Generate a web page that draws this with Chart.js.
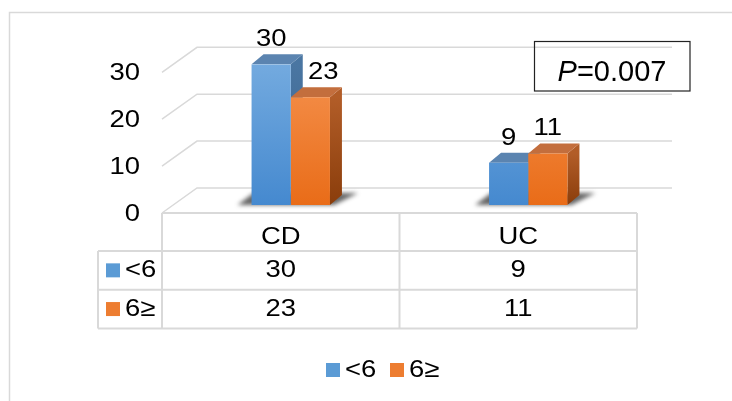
<!DOCTYPE html>
<html>
<head>
<meta charset="utf-8">
<script src="https://cdn.jsdelivr.net/npm/chart.js@4"></script>
<style>
  html, body { margin: 0; padding: 0; background: #fff; }
  #wrap { position: relative; width: 732px; height: 401px; }
</style>
</head>
<body>
<div id="wrap"><canvas id="chart"></canvas></div>
<script>
// data
const categories = ['CD', 'UC']
const seriesNames = ['<6', '6≥']
const under6 = [30, 9]
const over6 = [23, 11]
const yTicks = [0, 10, 20, 30]
const pLabel = 'P'
const pValue = '=0.007'

const FONT = '"Liberation Sans", Arial, sans-serif'
const GRID = '#d9d9d9'
const TEXT_SIZE = 24.5
const TEXT_STRETCH = 1.12 // the source text is a little wide

// colours: front top, front bottom, side, top face
const looks = [
  { front: ['#73aadf', '#4589cf'], side: ['#4a76a2', '#3a628c'], top: '#5b84b0', key: '#5b9bd5' },
  { front: ['#f5924f', '#e96c18'], side: ['#b25d28', '#8a3d0b'], top: '#c36e3d', key: '#ed7d31' }
]

// 3D offsets (bar depth, then front / back walls relative to the bar plane)
const BAR = { dx: 12, dy: 10 }
const FRONT = { dx: -10, dy: 8 }
const BACK = { dx: 25, dy: -17 }

function frontFill (colors) {
  return (c) => {
    const a = c.chart.chartArea
    if (!a) return colors[1]
    const g = c.chart.ctx.createLinearGradient(0, a.top, 0, a.bottom)
    g.addColorStop(0, colors[0])
    g.addColorStop(1, colors[1])
    return g
  }
}

function poly (ctx, pts, fill) {
  ctx.beginPath()
  ctx.moveTo(pts[0][0], pts[0][1])
  pts.slice(1).forEach(p => ctx.lineTo(p[0], p[1]))
  ctx.closePath()
  ctx.fillStyle = fill
  ctx.fill()
}

function text (ctx, str, x, y, align) {
  ctx.save()
  ctx.translate(x, y)
  ctx.scale(TEXT_STRETCH, 1)
  ctx.font = TEXT_SIZE + 'px ' + FONT
  ctx.textAlign = align
  ctx.textBaseline = 'middle'
  ctx.fillStyle = '#000'
  ctx.fillText(str, 0, 0)
  ctx.restore()
}

const threeD = {
  id: 'threeD',
  beforeDatasetsDraw (chart) {
    const { ctx, chartArea: a, scales: { y } } = chart
    ctx.save()

    // walls: gridlines run from the front edge to the back wall
    ctx.strokeStyle = GRID
    ctx.lineWidth = 1.5
    yTicks.forEach(v => {
      const py = y.getPixelForValue(v)
      ctx.beginPath()
      ctx.moveTo(a.left + FRONT.dx, py + FRONT.dy)
      ctx.lineTo(a.left + BACK.dx, py + BACK.dy)
      ctx.lineTo(a.right + BACK.dx, py + BACK.dy)
      ctx.stroke()
    })

    // floor shadows
    categories.forEach((c, j) => {
      const first = chart.getDatasetMeta(0).data[j]
      const last = chart.getDatasetMeta(chart.data.datasets.length - 1).data[j]
      const l = first.x - first.width / 2
      const r = last.x + last.width / 2
      const b = first.base
      ctx.save()
      ctx.filter = 'blur(2px)'
      poly(ctx, [[l - 14, b], [r + 4, b], [r + BAR.dx + 16, b - BAR.dy - 2], [l + 2, b - BAR.dy - 2]], 'rgba(50,50,50,0.75)')
      ctx.restore()
    })

    // side and top faces, series in order so later bars cover earlier ones
    categories.forEach((c, j) => {
      chart.data.datasets.forEach((ds, i) => {
        const bar = chart.getDatasetMeta(i).data[j]
        const l = bar.x - bar.width / 2
        const r = bar.x + bar.width / 2
        const t = bar.y
        const b = bar.base
        const g = ctx.createLinearGradient(0, t, 0, b)
        g.addColorStop(0, looks[i].side[0])
        g.addColorStop(1, looks[i].side[1])
        poly(ctx, [[r, t], [r + BAR.dx, t - BAR.dy], [r + BAR.dx, b - BAR.dy], [r, b]], g)
        poly(ctx, [[l, t], [r, t], [r + BAR.dx, t - BAR.dy], [l + BAR.dx, t - BAR.dy]], looks[i].top)
      })
    })
    ctx.restore()
  },

  afterDatasetsDraw (chart) {
    const { ctx } = chart
    chart.data.datasets.forEach((ds, i) => {
      chart.getDatasetMeta(i).data.forEach((bar, j) => {
        // move the label clear of a taller neighbour's side face
        const prev = i > 0 ? chart.getDatasetMeta(i - 1).data[j] : null
        const shift = prev && prev.y < bar.y ? BAR.dx + 1 : 0
        text(ctx, String(ds.data[j]), bar.x + shift, bar.y - 25, 'center')
      })
    })
  },

  afterDraw (chart) {
    const { ctx, chartArea: a, scales: { x, y } } = chart
    ctx.save()

    // outer frame
    ctx.strokeStyle = GRID
    ctx.lineWidth = 1.5
    ctx.strokeRect(9.5, 12.5, 900, 600)

    // y tick labels on the front edge
    yTicks.forEach(v => {
      text(ctx, String(v), 140, y.getPixelForValue(v) + FRONT.dy + 1, 'right')
    })

    // data table under the floor
    const floor = y.getPixelForValue(0) + FRONT.dy
    const rowH = 38.7
    const half = (x.getPixelForValue(1) - x.getPixelForValue(0)) / 2
    const cols = [a.left + FRONT.dx]
    categories.forEach((c, j) => cols.push(x.getPixelForValue(j) + half + FRONT.dx))
    const keyLeft = 98
    const rows = [floor, floor + 38, floor + 38 + rowH, floor + 38 + 2 * rowH]

    ctx.strokeStyle = GRID
    ctx.lineWidth = 2
    ctx.beginPath()
    ctx.moveTo(cols[0], rows[0]); ctx.lineTo(cols[cols.length - 1], rows[0])
    rows.slice(1).forEach(ry => { ctx.moveTo(keyLeft, ry); ctx.lineTo(cols[cols.length - 1], ry) })
    cols.forEach(cx => { ctx.moveTo(cx, rows[0]); ctx.lineTo(cx, rows[3]) })
    ctx.moveTo(keyLeft, rows[1]); ctx.lineTo(keyLeft, rows[3])
    ctx.stroke()

    categories.forEach((c, j) => {
      const cx = (cols[j] + cols[j + 1]) / 2
      text(ctx, c, cx, rows[0] + 24, 'center')
      chart.data.datasets.forEach((ds, i) => {
        text(ctx, String(ds.data[j]), cx, (rows[i + 1] + rows[i + 2]) / 2, 'center')
      })
    })
    seriesNames.forEach((name, i) => {
      const cy = (rows[i + 1] + rows[i + 2]) / 2
      ctx.fillStyle = looks[i].key
      ctx.fillRect(106, cy - 7, 14, 14)
      text(ctx, name, 125, cy, 'left')
    })

    // legend at the bottom
    let lx = 326
    seriesNames.forEach((name, i) => {
      ctx.fillStyle = looks[i].key
      ctx.fillRect(lx, 363, 14, 14)
      text(ctx, name, lx + 19, 370, 'left')
      lx += 64
    })

    // P value box
    ctx.strokeStyle = '#222'
    ctx.lineWidth = 1.2
    ctx.strokeRect(534.5, 41.5, 155.5, 49.5)
    ctx.fillStyle = '#000'
    ctx.textAlign = 'left'
    ctx.textBaseline = 'alphabetic'
    ctx.font = 'italic 29px ' + FONT
    const wP = ctx.measureText(pLabel).width
    ctx.font = '29px ' + FONT
    const wV = ctx.measureText(pValue).width
    const start = 612 - (wP + wV) / 2
    ctx.font = 'italic 29px ' + FONT
    ctx.fillText(pLabel, start, 81)
    ctx.font = '29px ' + FONT
    ctx.fillText(pValue, start + wP, 81)

    ctx.restore()
  }
}

new Chart(document.getElementById('chart').getContext('2d'), {
  type: 'bar',
  data: {
    labels: categories,
    datasets: [
      { label: seriesNames[0], data: under6, backgroundColor: frontFill(looks[0].front), borderWidth: 0 },
      { label: seriesNames[1], data: over6, backgroundColor: frontFill(looks[1].front), borderWidth: 0 }
    ]
  },
  options: {
    responsive: true,
    maintainAspectRatio: false,
    animation: false,
    layout: { padding: { left: 172, right: 85, top: 64.3, bottom: 196 } },
    categoryPercentage: 0.33,
    barPercentage: 1,
    plugins: {
      legend: { display: false },
      tooltip: { enabled: false }
    },
    scales: {
      x: { display: false },
      y: { display: false, min: 0, max: 30 }
    }
  },
  plugins: [threeD]
})
</script>
</body>
</html>
